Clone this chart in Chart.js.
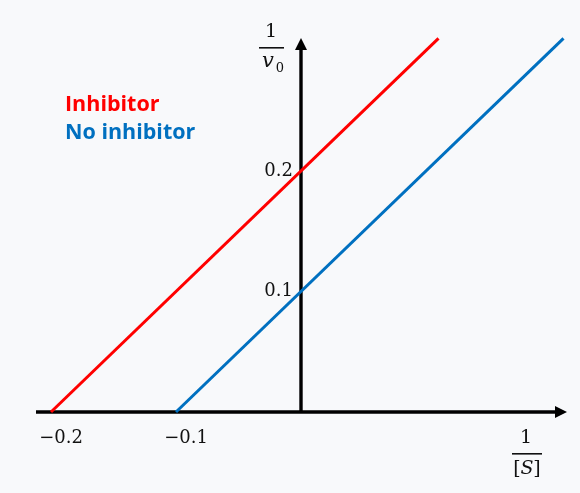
<!DOCTYPE html>
<html>
<head>
<meta charset="utf-8">
<script src="https://cdn.jsdelivr.net/npm/chart.js@4"></script>
<style>
html,body{margin:0;padding:0;background:#f8f9fb;}
#wrap{width:580px;height:493px;}
</style>
</head>
<body>
<div id="wrap"><canvas id="c" width="580" height="493"></canvas></div>
<script>
// Data
const seriesNames = ["Inhibitor", "No inhibitor"];
const inhibitorX = [-0.2, 0.11];
const inhibitorY = [0, 0.31];
const noInhibitorX = [-0.1, 0.21];
const noInhibitorY = [0, 0.31];
const xTickValues = [-0.2, -0.1];
const xTickLabels = ["\u22120.2", "\u22120.1"];
const yTickValues = [0.2, 0.1];
const yTickLabels = ["0.2", "0.1"];

const colors = ["#ff0000", "#0070c0"];

function pts(xs, ys){ return xs.map((x,i)=>({x:x, y:ys[i]})); }

const axesPlugin = {
  id: 'axesPlugin',
  beforeDatasetsDraw(chart){
    const ctx = chart.ctx, xs = chart.scales.x, ys = chart.scales.y;
    const x0 = xs.getPixelForValue(0), y0 = ys.getPixelForValue(0);
    ctx.save();
    ctx.strokeStyle = '#000'; ctx.fillStyle = '#000'; ctx.lineWidth = 3.4;
    // x axis
    const xl = xs.getPixelForValue(-0.212), xr = xs.getPixelForValue(0.2128);
    ctx.beginPath(); ctx.moveTo(xl, y0); ctx.lineTo(xr - 10, y0); ctx.stroke();
    ctx.beginPath(); ctx.moveTo(xr, y0); ctx.lineTo(xr - 12, y0 - 6); ctx.lineTo(xr - 12, y0 + 6); ctx.closePath(); ctx.fill();
    // y axis
    const yt = ys.getPixelForValue(0.3104);
    ctx.beginPath(); ctx.moveTo(x0, y0); ctx.lineTo(x0, yt + 10); ctx.stroke();
    ctx.beginPath(); ctx.moveTo(x0, yt); ctx.lineTo(x0 - 6, yt + 12); ctx.lineTo(x0 + 6, yt + 12); ctx.closePath(); ctx.fill();
    ctx.restore();
  },
  afterDatasetsDraw(chart){
    const ctx = chart.ctx, xs = chart.scales.x, ys = chart.scales.y;
    const x0 = xs.getPixelForValue(0), y0 = ys.getPixelForValue(0);
    ctx.save();
    ctx.fillStyle = '#111';
    ctx.font = '18px "DejaVu Serif"';
    ctx.textBaseline = 'middle';
    ctx.textAlign = 'center';
    xTickValues.forEach((v,i)=>{
      ctx.fillText(xTickLabels[i], xs.getPixelForValue(v) + 10, y0 + 26);
    });
    ctx.textAlign = 'right';
    yTickValues.forEach((v,i)=>{
      ctx.fillText(yTickLabels[i], x0 - 8, ys.getPixelForValue(v));
    });
    // y axis title 1/v0
    ctx.textAlign = 'center';
    ctx.font = '19px "DejaVu Serif"';
    ctx.fillText('1', 271, 32);
    ctx.fillRect(259, 47, 25, 1.6);
    ctx.font = 'italic 21px "DejaVu Serif"';
    ctx.fillText('v', 268, 62);
    ctx.font = '13px "DejaVu Serif"';
    ctx.fillText('0', 280, 69);
    // x axis title 1/[S]
    ctx.font = '19px "DejaVu Serif"';
    ctx.fillText('1', 526, 438);
    ctx.fillRect(512, 453, 30, 1.6);
    ctx.fillText('[', 517, 469);
    ctx.fillText(']', 537, 469);
    ctx.font = 'italic 19px "DejaVu Serif"';
    ctx.fillText('S', 527, 469);
    // legend
    ctx.textAlign = 'left';
    ctx.font = 'bold 21.5px "Open Sans"';
    ctx.fillStyle = colors[0];
    ctx.fillText(seriesNames[0], 65, 105);
    ctx.fillStyle = colors[1];
    ctx.fillText(seriesNames[1], 65, 133);
    ctx.restore();
  }
};

new Chart(document.getElementById('c'), {
  type: 'scatter',
  data: {
    datasets: [
      { label: seriesNames[0], data: pts(inhibitorX, inhibitorY), showLine: true, borderColor: colors[0], borderWidth: 3, pointRadius: 0, fill: false },
      { label: seriesNames[1], data: pts(noInhibitorX, noInhibitorY), showLine: true, borderColor: colors[1], borderWidth: 3, pointRadius: 0, fill: false }
    ]
  },
  options: {
    responsive: false,
    animation: false,
    devicePixelRatio: 1,
    layout: { padding: 0 },
    plugins: { legend: { display: false }, tooltip: { enabled: false } },
    scales: {
      x: { type: 'linear', min: -0.2408, max: 0.2232, display: false },
      y: { type: 'linear', min: -0.0672, max: 0.3419, display: false }
    }
  },
  plugins: [axesPlugin]
});
</script>
</body>
</html>
